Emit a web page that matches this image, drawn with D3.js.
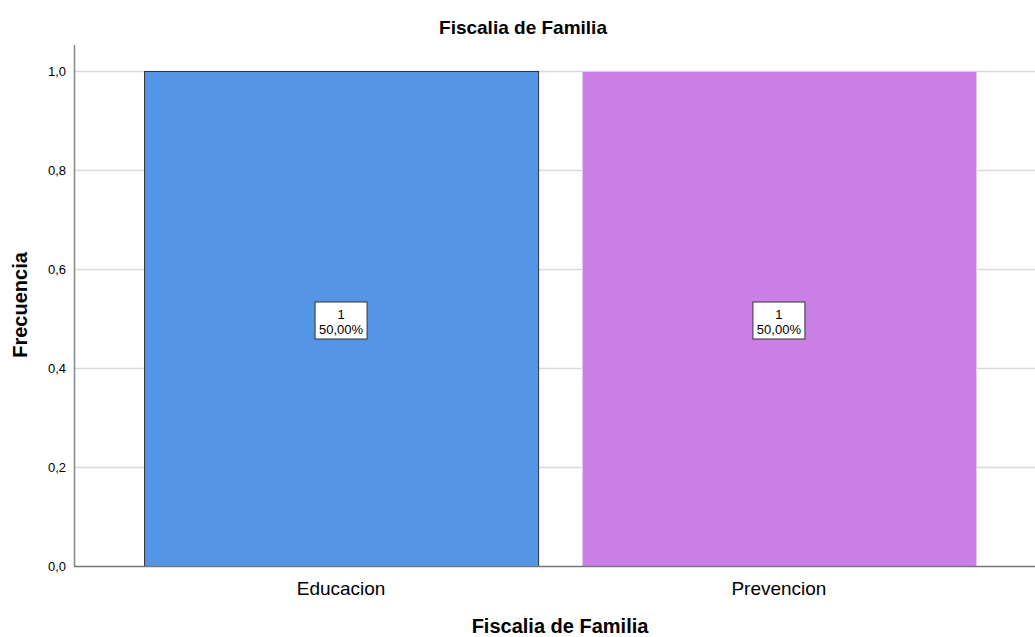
<!DOCTYPE html>
<html>
<head>
<meta charset="utf-8">
<script src="https://cdn.jsdelivr.net/npm/d3@7"></script>
<style>
  body { margin: 0; background: #fff; }
  text { font-family: Arial, "Liberation Sans", sans-serif; fill: #000; }
</style>
</head>
<body>
<div id="container"></div>
<script>
'use strict';

const categories = ['Educacion', 'Prevencion'];
const counts = [1, 1];
const percents = ['50,00%', '50,00%'];
const colors = ['#5595e5', '#c97fe4'];
const yTicks = [0, 0.2, 0.4, 0.6, 0.8, 1.0];

const w = 1035;
const h = 637;
const plotLeft = 74;
const plotTop = 71;
const plotBottom = 566;

const svg = d3.select('#container')
                .append('svg')
                .attr('width', w)
                .attr('height', h);

const fmt = (v) => d3.format('.1f')(v).replace('.', ',');

const yScale = d3.scaleLinear()
                    .domain([0, 1])
                    .range([plotBottom, plotTop]);

const xScale = d3.scaleBand()
                    .domain(categories)
                    .range([plotLeft, 1046])
                    .paddingInner(0.1)
                    .paddingOuter(0.16);

// gridlines
svg.append('g')
    .selectAll('line')
    .data(yTicks.filter((d) => d > 0))
    .enter()
    .append('line')
    .attr('x1', plotLeft)
    .attr('x2', w)
    .attr('y1', (d) => yScale(d) + 0.5)
    .attr('y2', (d) => yScale(d) + 0.5)
    .attr('stroke', '#d9d9d9')
    .attr('stroke-width', 1.5);

// bars
svg.selectAll('rect.bar')
    .data(categories)
    .enter()
    .append('rect')
    .attr('class', 'bar')
    .attr('x', (d) => xScale(d) + 0.5)
    .attr('y', (d, i) => yScale(counts[i]) + 0.5)
    .attr('width', xScale.bandwidth())
    .attr('height', (d, i) => yScale(0) - yScale(counts[i]))
    .attr('fill', (d, i) => colors[i])
    .attr('stroke', (d, i) => i === 0 ? '#333' : '#e8c8f2')
    .attr('stroke-width', 1);

// axes
svg.append('line')
    .attr('x1', plotLeft + 0.5).attr('x2', plotLeft + 0.5)
    .attr('y1', 45).attr('y2', plotBottom + 0.5)
    .attr('stroke', '#888').attr('stroke-width', 1.5);
svg.append('line')
    .attr('x1', plotLeft).attr('x2', w)
    .attr('y1', plotBottom + 0.5).attr('y2', plotBottom + 0.5)
    .attr('stroke', '#777').attr('stroke-width', 1.5);

svg.append('g')
    .selectAll('text')
    .data(yTicks)
    .enter()
    .append('text')
    .attr('x', 66)
    .attr('y', (d) => yScale(d) + 5)
    .attr('text-anchor', 'end')
    .attr('font-size', 13)
    .attr('fill', '#222')
    .text(fmt);

svg.append('g')
    .selectAll('text')
    .data(categories)
    .enter()
    .append('text')
    .attr('x', (d) => xScale(d) + xScale.bandwidth() / 2)
    .attr('y', 595)
    .attr('text-anchor', 'middle')
    .attr('font-size', 19)
    .attr('fill', '#222')
    .text((d) => d);

// data labels
const lab = svg.append('g')
    .selectAll('g')
    .data(categories)
    .enter()
    .append('g')
    .attr('transform', (d, i) => 'translate(' + (xScale(d) + xScale.bandwidth() / 2) + ',' + yScale(counts[i] / 2) + ')');
lab.append('rect')
    .attr('x', -26).attr('y', -16.5)
    .attr('width', 52).attr('height', 37)
    .attr('fill', '#fff')
    .attr('stroke', '#333');
lab.append('text')
    .attr('text-anchor', 'middle')
    .attr('y', 0)
    .attr('font-size', 13)
    .text((d, i) => counts[i]);
lab.append('text')
    .attr('text-anchor', 'middle')
    .attr('y', 15)
    .attr('font-size', 13)
    .text((d, i) => percents[i]);

// titles
svg.append('text')
    .attr('x', 523)
    .attr('y', 34)
    .attr('text-anchor', 'middle')
    .attr('font-size', 19)
    .attr('font-weight', 'bold')
    .text('Fiscalia de Familia');

svg.append('text')
    .attr('x', 560)
    .attr('y', 633)
    .attr('text-anchor', 'middle')
    .attr('font-size', 20)
    .attr('font-weight', 'bold')
    .text('Fiscalia de Familia');

svg.append('text')
    .attr('transform', 'translate(27,' + 305 + ') rotate(-90)')
    .attr('text-anchor', 'middle')
    .attr('font-size', 20)
    .attr('font-weight', 'bold')
    .text('Frecuencia');
</script>
</body>
</html>
